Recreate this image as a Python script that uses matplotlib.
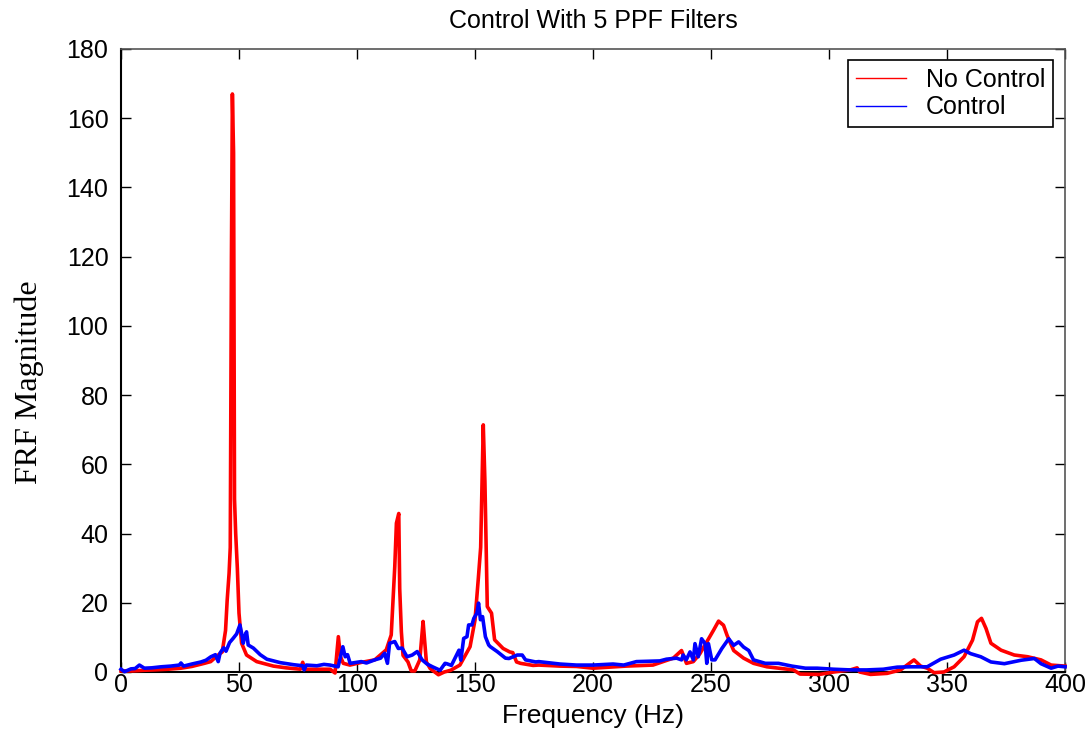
import matplotlib
matplotlib.use('Agg')
import matplotlib.pyplot as plt
from matplotlib.lines import Line2D

# ---------------- dados ----------------
freq_sem=[0,5,10,14,20,25.4,30,35.3,38,41,42.9,44.3,45,45.8,46.3,46.8,47.2,47.7,48.1,48.6,49.3,50,51.1,53.2,57.5,64.6,70,76,77,77.5,83,88.6,90.7,92.1,93,94.2,97,102,107.5,112.4,114.5,116,116.7,117.7,118.1,118.8,119.5,121.6,123,124.5,126.6,128,128.6,129.4,131,134.5,137,139.7,143.6,147.9,150,151.4,152.4,153.5,154.2,155.2,157,158.3,161.9,164.7,166,167.6,169.3,174.6,177,186,193,200,214,225.4,234,237.5,239.6,242.5,245.3,248.2,251,253.2,255.3,256.8,259.6,263.8,268,273.7,284.9,287.7,296,302,309,311.9,313,317.6,324.6,330.3,336,338.8,341.6,344.5,348.7,353,357.2,360.8,362.9,364.6,366.5,368.6,372.9,378.5,384.2,389.8,394.1,400]
mag_sem=[0.3,0.3,0.5,0.6,0.8,1.1,1.6,2.5,3.0,4.8,5.8,12,20.8,28.5,36,120,167,150,50,40,30,17,8.3,4.9,3,1.7,1.2,0.8,2.8,0.8,0.8,0.8,-0.3,10.2,4.4,2.5,2,2.8,3.5,6.4,10.7,30.4,43,45.8,24,11.6,4.8,2.9,0.3,0.3,3.5,14.6,9.5,2.9,1,-0.8,0,0.5,2.0,7.3,15,27,36,71.4,55,18.9,17,9.3,6.8,5.8,5.6,2.9,2.5,1.9,2,1.7,1.6,1.1,1.7,2.0,4,6.2,2.5,3,5.3,8.7,12,14.7,13.5,10.6,6.2,4,2.5,1.5,0.6,-0.6,-0.7,0,0.6,1.2,0,-0.7,-0.4,0.6,3.5,1.7,1.1,-0.2,0,1.5,4.4,9.2,14.5,15.5,12.6,8.3,6.3,4.9,4.4,3.5,2,1.7]

freq_com=[0,1.5,4.2,6,7.8,9.9,13,17,21,24.7,25.4,26.5,30,33.9,36,38.1,40,41.2,42,43.5,44.5,46,47.5,49,50.4,51.1,51.8,52.5,53.2,53.9,56.1,59,61.8,67.5,73.2,77,77.6,78.5,83,86,88.6,92,94,95,96,97.1,101.8,104,107.5,110,111.7,112.9,113.8,116,117.5,119.1,121.2,123.4,125.5,127.6,129.7,132,135.2,137.3,138,140,142.2,143.2,144,145.2,146.6,147.3,148.7,149.5,150.8,151.5,152.3,153.2,154.4,155.8,156.5,159.4,162.9,164.4,167.9,170,171.4,175.7,177,186,193,200,208.5,213,218.4,228.3,231.1,235.4,237.5,238.2,239.5,241.1,242.5,243.2,244.6,246,247.5,248.2,248.9,250.3,251.7,254.6,257.5,259.6,261.7,263.8,266,268,273,278.6,284.3,290,295,302,309,316,323,328.9,334.6,341.6,347.3,353,357.2,360,364.3,368.6,374.3,381.4,387,389.8,394.1,397,400]
mag_com=[0.8,0.1,0.9,1.0,2.0,1.1,1.2,1.5,1.7,2.0,2.6,1.7,2.3,2.9,3.4,4.4,5.0,3,5.5,7.0,6.0,8.5,9.7,11,13.6,11.2,8.3,10.5,11.6,7.8,6.9,5,3.7,2.7,2.1,1.8,0.6,2.0,1.8,2.2,2,1.5,7.3,4.4,5.0,2.5,3,2.6,3.5,4.0,5.4,2.5,8.3,8.8,6.8,6.9,4.4,4.9,5.9,3.5,2.3,1.5,0.5,2.5,2.4,1.9,4.9,6.3,3.4,9.7,10.2,13.6,13.6,15.5,17,19.9,15.1,16,10.2,7.8,7.3,5.9,4,3.9,4.9,4.9,3.5,2.9,3,2.3,2.0,2.0,2.3,2.0,3,3.2,3.7,4.0,3.5,4.9,3.5,5.8,3.5,8.2,4.4,9.6,8.2,2.5,8.2,3.5,3.5,6.8,9.6,7.7,8.7,7.2,6.2,3.5,2.5,2.5,1.7,1.1,1.1,0.8,0.6,0.6,0.8,1.4,1.5,1.5,3.7,4.9,6.3,5.3,4.4,2.9,2.4,3.4,3.9,2.4,1.1,1.7,1.5]

fonte='Liberation Sans'

fig=plt.figure(figsize=(10.88,7.40), dpi=100)
ax=fig.add_axes([0.1112,0.0919,0.8677,0.8419])

ax.plot(freq_sem,mag_sem, lw=2.6, color='#ff0000', clip_on=False, zorder=3)
ax.plot(freq_com,mag_com, lw=2.6, color='#0000ff', clip_on=False, zorder=4)

ax.set_xlim(0,400)
ax.set_ylim(0,180)
ax.set_xticks(range(0,401,50))
ax.set_yticks(range(0,181,20))
ax.tick_params(direction='in', length=7, width=1, top=True, right=True, labelsize=18)
ax.tick_params(axis='x', pad=0.5)
ax.tick_params(axis='y', pad=9)
for lab in ax.get_xticklabels()+ax.get_yticklabels():
    lab.set_family(fonte)
for s in ['top','right']:
    ax.spines[s].set_color('#555555')
    ax.spines[s].set_linewidth(1.2)
for s in ['left','bottom']:
    ax.spines[s].set_color('black')
    ax.spines[s].set_linewidth(1.5)

ax.set_title('Control With 5 PPF Filters', fontsize=18, family=fonte, pad=15)
ax.set_xlabel('Frequency (Hz)', fontsize=19, family=fonte, labelpad=5)
ax.set_ylabel('FRF Magnitude', fontsize=23, family='Liberation Serif')
ax.yaxis.set_label_coords(-0.082, 0.465)

handles=[Line2D([0],[0],color='#ff0000',lw=1),Line2D([0],[0],color='#0000ff',lw=1)]
leg=ax.legend(handles,['No Control','Control'], loc='upper right', bbox_to_anchor=(0.987,0.982),
              prop={'family':fonte,'size':18}, fancybox=False, framealpha=1,
              edgecolor='black', handlelength=2.0, borderpad=0.3, labelspacing=0.15,
              handletextpad=0.8, borderaxespad=0)
leg.get_frame().set_linewidth(1.2)

fig.savefig('out.png', dpi=100)
